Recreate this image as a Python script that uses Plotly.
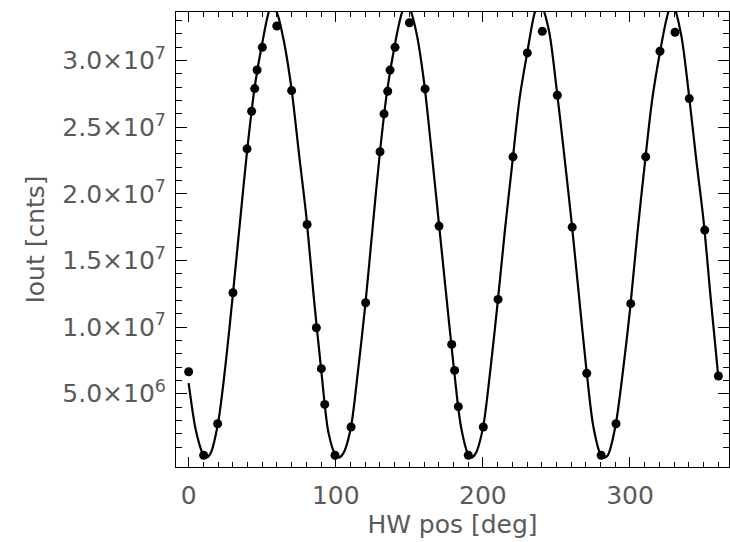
import plotly.graph_objects as go

# measured points (HW position in deg, Iout in counts)
pos_deg = [0.0, 10.2, 19.7, 30.1, 39.7, 42.8, 44.9, 46.5, 50.1, 59.9, 70.0, 80.5, 86.8, 90.2, 92.5,
           99.5, 110.4, 120.3, 130.1, 132.8, 135.3, 136.9, 140.3, 150.1, 160.7, 170.2, 178.8, 180.8, 183.3,
           190.1, 200.3, 210.3, 220.5, 230.2, 240.4, 250.6, 260.7, 270.6,
           280.4, 290.5, 300.5, 310.7, 320.4, 330.6, 340.3, 350.8, 360.1]
iout_meas = [6.65e6, 0.38e6, 2.75e6, 12.58e6, 23.38e6, 26.2e6, 27.9e6, 29.3e6, 31.0e6, 32.6e6, 27.75e6, 17.7e6, 9.95e6, 6.88e6, 4.2e6,
             0.38e6, 2.5e6, 11.83e6, 23.16e6, 26.0e6, 27.7e6, 29.29e6, 31.0e6, 32.84e6, 27.88e6, 17.58e6, 8.7e6, 6.75e6, 4.03e6,
             0.38e6, 2.5e6, 12.08e6, 22.78e6, 30.58e6, 32.2e6, 27.4e6, 17.5e6, 6.53e6,
             0.38e6, 2.75e6, 11.76e6, 22.78e6, 30.7e6, 32.13e6, 27.15e6, 17.28e6, 6.33e6]

# fitted curve (deg, counts)
fit_deg = [0, 5, 10, 12, 15, 20, 25, 30, 35, 40, 45, 50, 55, 57, 60, 65, 70, 75, 80, 85, 90, 95, 100, 102,
           105, 110, 115, 120, 125, 130, 135, 140, 145, 148, 150, 155, 160, 165, 170, 175, 180, 185, 190, 192,
           195, 200, 205, 210, 215, 220, 225, 230, 235, 238, 240, 245, 250, 255, 260, 265, 270, 275, 280, 282.5,
           285, 290, 295, 300, 305, 310, 315, 320, 325, 328, 330, 335, 340, 345, 350, 355, 360]
fit_iout = [5.8e6, 2.2e6, 0.4e6, 0.2e6, 0.55e6, 2.8e6, 7.1e6, 12.4e6, 18.0e6, 23.5e6, 28.1e6, 31.3e6, 33.8e6, 34.0e6, 33.6e6,
            31.3e6, 27.8e6, 23.0e6, 18.3e6, 12.3e6, 6.9e6, 2.1e6, 0.35e6, 0.2e6,
            0.5e6, 2.3e6, 6.6e6, 11.6e6, 17.4e6, 23.1e6, 27.8e6, 31.1e6, 33.6e6, 34.2e6, 34.0e6, 32.0e6, 28.4e6,
            23.3e6, 17.9e6, 12.5e6, 7.2e6, 2.6e6, 0.45e6, 0.2e6,
            0.5e6, 2.4e6, 6.7e6, 11.8e6, 17.3e6, 22.3e6, 27.2e6, 30.5e6, 33.5e6, 34.3e6, 34.1e6, 32.2e6, 28.0e6,
            23.2e6, 18.2e6, 12.7e6, 7.2e6, 2.6e6, 0.45e6, 0.2e6,
            0.4e6, 2.5e6, 6.5e6, 11.3e6, 17.0e6, 22.2e6, 27.0e6, 30.4e6, 33.2e6, 34.2e6, 34.0e6, 31.8e6, 27.5e6,
            22.6e6, 18.0e6, 12.0e6, 6.3e6]

x_ticks = [0, 100, 200, 300]
y_ticks = [5e6, 1e7, 1.5e7, 2e7, 2.5e7, 3e7]
y_tick_text = ["5.0×10<sup>6</sup>", "1.0×10<sup>7</sup>", "1.5×10<sup>7</sup>",
               "2.0×10<sup>7</sup>", "2.5×10<sup>7</sup>", "3.0×10<sup>7</sup>"]
x_minor = list(range(10, 361, 10))
y_minor = [v * 1e6 for v in range(1, 34) if v % 5 != 0]

font_fam = "DejaVu Sans ExtraLight, DejaVu Sans, sans-serif"
txt_col = "#5a5a5a"
fsize = 25

fig = go.Figure()
fig.add_trace(go.Scatter(x=fit_deg, y=fit_iout, mode="lines", line=dict(color="black", width=2.2, shape="spline", smoothing=0.8),
                         hoverinfo="skip", showlegend=False))
fig.add_trace(go.Scatter(x=pos_deg, y=iout_meas, mode="markers", marker=dict(color="black", size=9, symbol="circle"),
                         showlegend=False))

axis_common = dict(showgrid=False, zeroline=False, showline=True, linecolor="black", linewidth=1,
                   mirror="allticks", ticks="inside", tickcolor="black", tickwidth=1,
                   tickfont=dict(family=font_fam, size=fsize, color=txt_col))

fig.update_xaxes(range=[-8.6, 367.3], tickmode="array", tickvals=x_ticks, ticktext=[str(v) for v in x_ticks],
                 ticklen=10, ticklabelstandoff=6,
                 minor=dict(tickmode="array", tickvals=x_minor, ticklen=5, ticks="inside", tickcolor="black"),
                 title=dict(text="HW pos [deg]", font=dict(family=font_fam, size=fsize, color=txt_col), standoff=4),
                 **axis_common)
fig.update_yaxes(range=[-0.5e6, 3.365e7], tickmode="array", tickvals=y_ticks, ticktext=y_tick_text,
                 ticklen=11, ticklabelstandoff=4,
                 minor=dict(tickmode="array", tickvals=y_minor, ticklen=6, ticks="inside", tickcolor="black"),
                 title=dict(text="Iout [cnts]", font=dict(family=font_fam, size=fsize, color=txt_col), standoff=10),
                 **axis_common)

fig.update_layout(width=730, height=542, margin=dict(l=176, r=1, t=12, b=75),
                  plot_bgcolor="white", paper_bgcolor="white")

fig.write_html("out.html")
